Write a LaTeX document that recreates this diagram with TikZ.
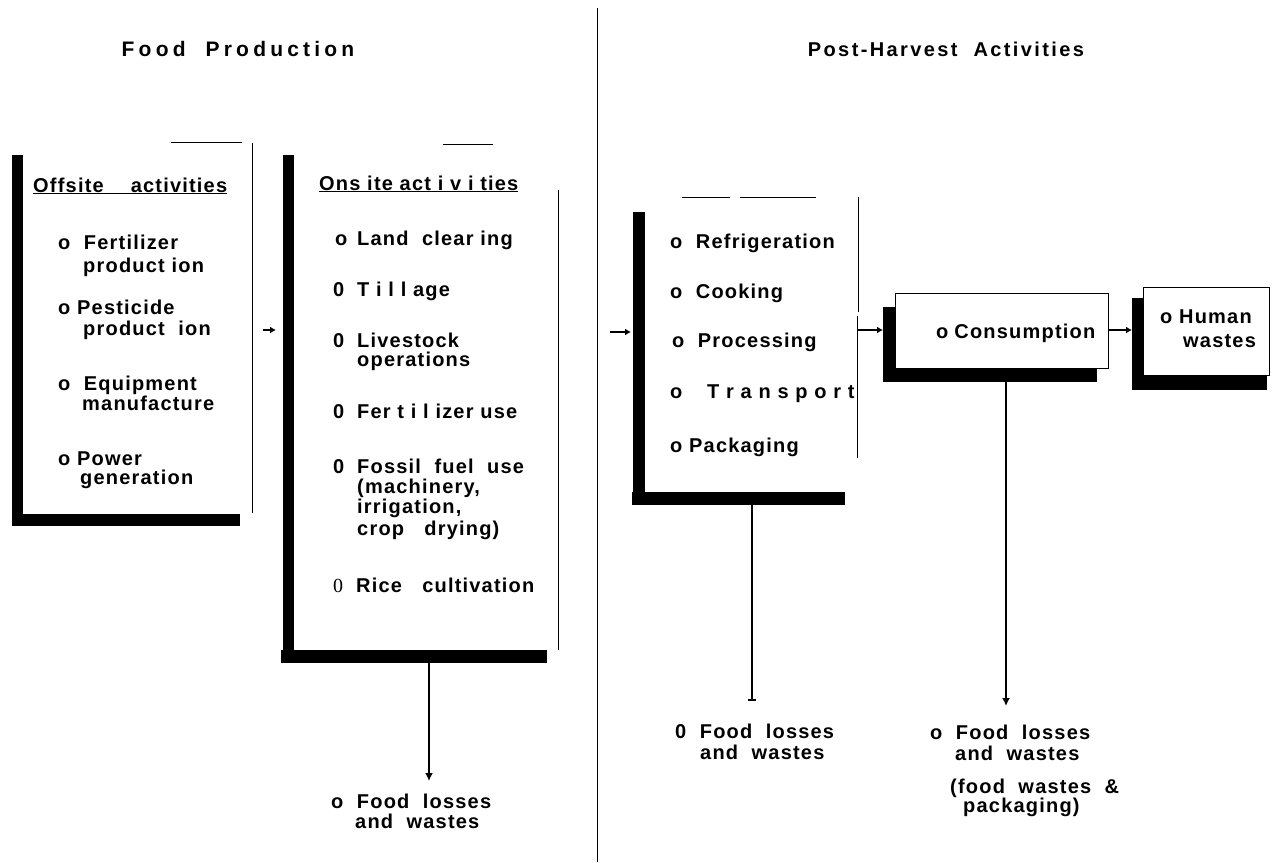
\documentclass[tikz,border=0pt]{standalone}
\usepackage{fontspec}
\setmainfont{Liberation Sans}
\newfontfamily\lab[LetterSpace=6]{Liberation Sans}
\newfontfamily\headA[LetterSpace=20]{Liberation Sans}
\newfontfamily\headB[LetterSpace=12]{Liberation Sans}
\newfontfamily\serf{Liberation Serif}
\usetikzlibrary{arrows.meta}
\tikzset{
  x=1pt, y=-1pt,
  bar/.style={fill=black},
  thin/.style={draw=black, line width=0.9pt},
  txt/.style={anchor=base west, inner sep=0pt, font=\lab\bfseries\fontsize{20}{24}\selectfont},
  headL/.style={anchor=base, inner sep=0pt, font=\headA\bfseries\fontsize{21}{25}\selectfont},
  headR/.style={anchor=base, inner sep=0pt, font=\headB\bfseries\fontsize{20}{24}\selectfont},
  serif/.style={anchor=base west, inner sep=0pt, font=\serf\fontsize{20}{24}\selectfont},
  flow/.style={line width=2pt, -{Latex[length=8pt,width=8pt]}},
  shortflow/.style={line width=2.2pt, -{Latex[length=6pt,width=7pt]}},
  plain/.style={line width=2.2pt},
  whitebox/.style={fill=white, draw=black, line width=0.8pt},
}
\begin{document}
\begin{tikzpicture}
\fill[white] (0,0) rectangle (1281,862);
\useasboundingbox (0,0) rectangle (1281,862);

% divider
\draw[line width=0.9pt] (597,8) -- (597,862);

% headers
\node[headL] (h1) at (238,56) {Food\hspace{20pt}Production};
\node[headR] (h2) at (946,56) {Post-Harvest\ \ Activities};

% ---- Box 1: offsite
\fill[bar] (12,155) rectangle (23,526);
\fill[bar] (12,514) rectangle (240,526);
\draw[thin] (171,142) -- (242,142);
\draw[thin] (252,143) -- (252,513);
\node[txt] (off) at (33,192) {\underline{Offsite\ \ \ \ activities}};
\node[txt] (o1a) at (58,249) {o\ \ Fertilizer};
\node[txt] (o1b) at (83,272) {product ion};
\node[txt] (o2a) at (58,314) {o Pesticide};
\node[txt] (o2b) at (83,335) {product\ \ ion};
\node[txt] (o3a) at (58,390) {o\ \ Equipment};
\node[txt] (o3b) at (82,410) {manufacture};
\node[txt] (o4a) at (58,465) {o Power};
\node[txt] (o4b) at (80,484) {generation};

% ---- Box 2: onsite
\fill[bar] (283,155) rectangle (294,663);
\fill[bar] (281,650) rectangle (547,663);
\draw[thin] (443,144) -- (493,144);
\draw[thin] (558,190) -- (558,650);
\node[txt] (on) at (319,190) {\underline{Ons ite\ act i v i ties}};
\node[txt] (n1o) at (335,245) {o};
\node[txt] (n1) at (357,245) {Land\ \ clear ing};
\node[txt] (n2o) at (333,296) {0};
\node[txt] (n2) at (357,296) {T i l l age};
\node[txt] (n3o) at (333,347) {0};
\node[txt] (n3) at (357,347) {Livestock};
\node[txt] (n3b) at (357,366) {operations};
\node[txt] (n4o) at (333,418) {0};
\node[txt] (n4) at (357,418) {Fer t i l izer use};
\node[txt] (n5o) at (333,473) {0};
\node[txt] (n5) at (357,473) {Fossil\ \ fuel\ \ use};
\node[txt] (n5b) at (357,493) {(machinery,};
\node[txt] (n5c) at (357,513) {irrigation,};
\node[txt] (n5d) at (357,535) {crop\ \ \ drying)};
\node[serif] (n6o) at (333,592) {0};
\node[txt] (n6) at (356,592) {Rice\ \ \ cultivation};

% ---- Box 3: post-harvest
\fill[bar] (633,212) rectangle (645,505);
\fill[bar] (632,492) rectangle (845,505);
\draw[thin] (682,197) -- (730,197);
\draw[thin] (740,197) -- (816,197);
\draw[thin] (858,197) -- (858,312);
\draw[thin] (857,316) -- (857,458);
\node[txt] (p1) at (670,248) {o\ \ Refrigeration};
\node[txt] (p2) at (670,298) {o\ \ Cooking};
\node[txt] (p3) at (672,347) {o\ \ Processing};
\node[txt] (p4o) at (670,398) {o};
\node[txt] (p4) at (707,398) {T r a n s p o r t};
\node[txt] (p5) at (670,452) {o Packaging};

% ---- Consumption
\fill[bar] (883,307) rectangle (1097,382);
\draw[whitebox] (895,293) rectangle (1108,368);
\node[txt] (cons) at (936,338) {o\hspace{6pt}Consumption};

% ---- Human wastes
\fill[bar] (1132,298) rectangle (1267,390);
\draw[whitebox] (1143,287) rectangle (1269,375);
\node[txt] (hw1) at (1160,323) {o\ Human};
\node[txt] (hw2) at (1183,347) {wastes};

% ---- bottom labels
\node[txt] (f1a) at (331,808) {o\ \ Food\ \ losses};
\node[txt] (f1b) at (355,828) {and\ \ wastes};
\node[txt] (f2a) at (675,738) {0\ \ Food\ \ losses};
\node[txt] (f2b) at (700,759) {and\ \ wastes};
\node[txt] (f3a) at (930,739) {o\ \ Food\ \ losses};
\node[txt] (f3b) at (955,760) {and\ \ wastes};
\node[txt] (f3c) at (950,793) {(food\ \ wastes\ \ \&};
\node[txt] (f3d) at (963,812) {packaging)};

% ---- connectors
\coordinate (a1s) at (263,330);
\coordinate (a1e) at (276,330);
\coordinate (b2s) at (429,663);
\coordinate (b2e) at (429,781);
\coordinate (a3s) at (610,332);
\coordinate (a3e) at (631,332);
\coordinate (a4s) at (858,330);
\coordinate (a4e) at (883,330);
\coordinate (a5s) at (1108,330);
\coordinate (a5e) at (1132,330);
\coordinate (b3s) at (752,505);
\coordinate (b3e) at (752,700);
\coordinate (b4s) at (1006,382);
\coordinate (b4e) at (1006,706);

\draw[shortflow] (a1s) -- (a1e);
\draw[flow] (b2s) -- (b2e);
\draw[shortflow] (a3s) -- (a3e);
\draw[shortflow] (a4s) -- (a4e);
\draw[shortflow] (a5s) -- (a5e);
\draw[plain] (b3s) -- (b3e);
\draw[line width=1.5pt] (748,700) -- (756,700);
\draw[flow] (b4s) -- (b4e);
\end{tikzpicture}
\end{document}
